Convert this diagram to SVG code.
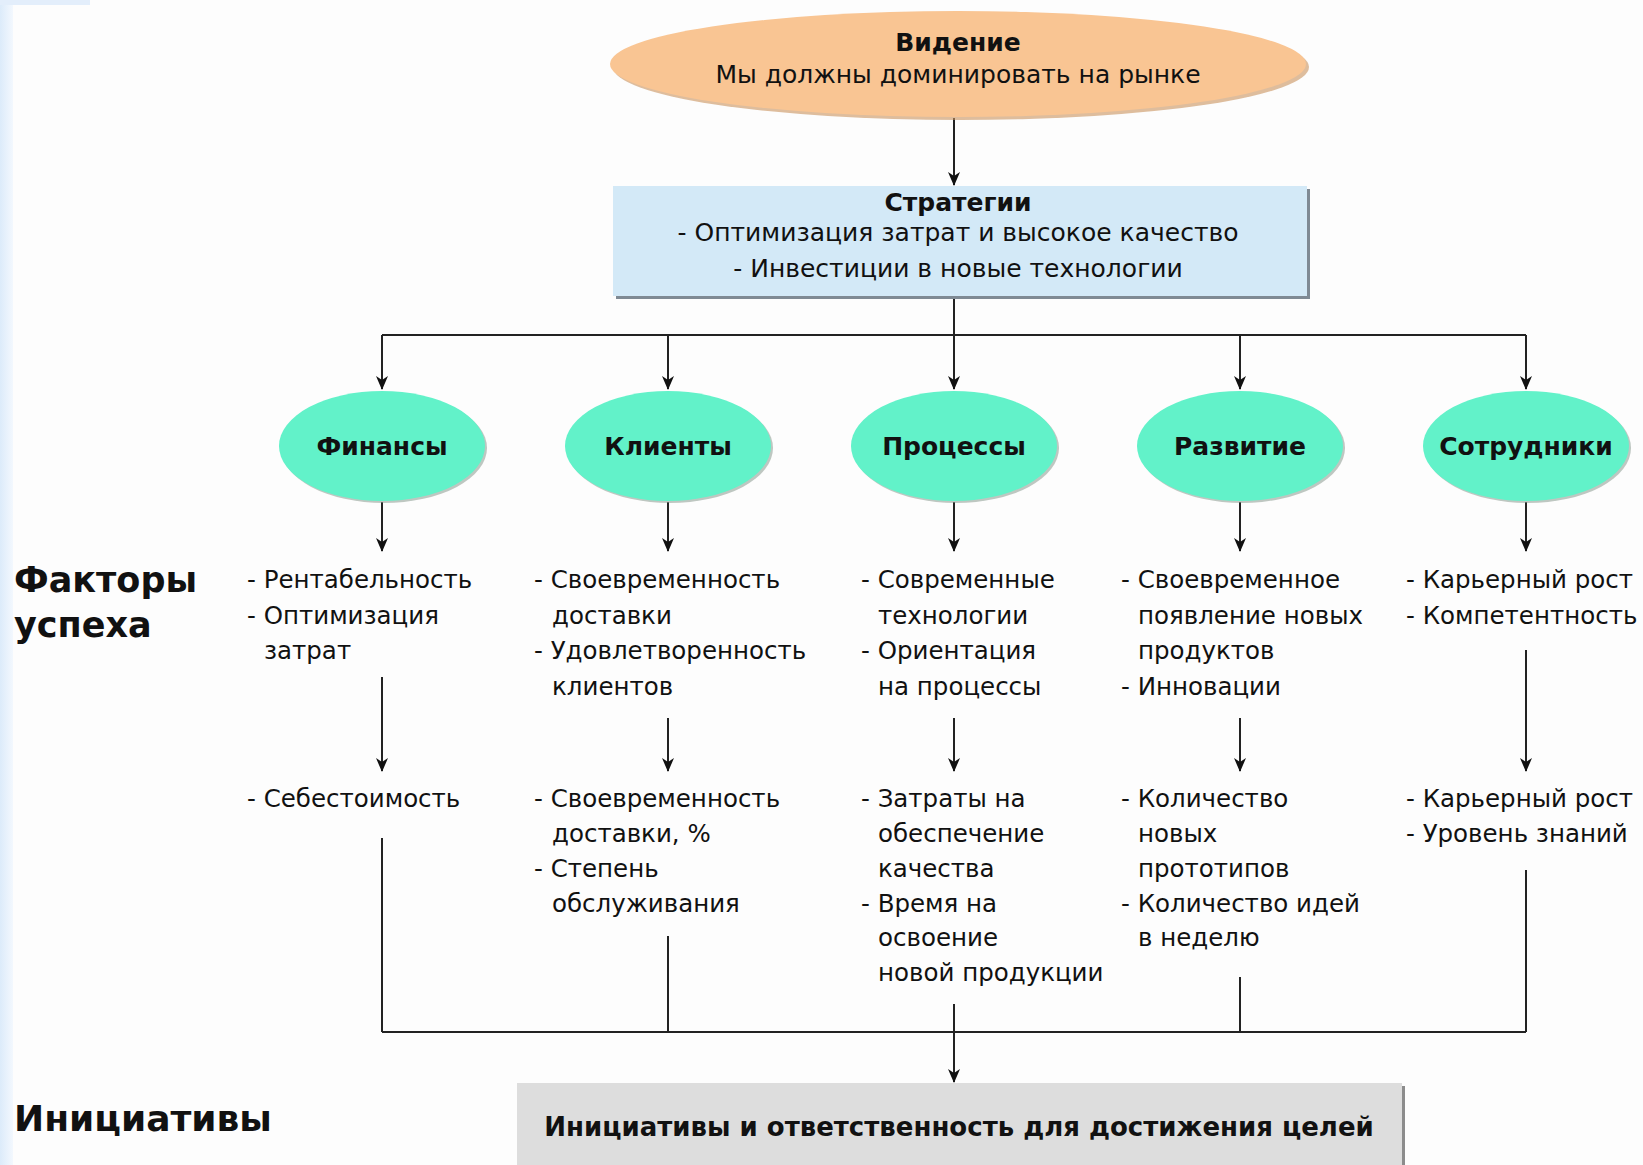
<svg xmlns="http://www.w3.org/2000/svg" width="1643" height="1165" viewBox="0 0 1643 1165">
<style>
  text { font-family: "DejaVu Sans", "Liberation Sans", sans-serif; fill: #111; }
  .t { font-size: 24.5px; }
  .s { font-size: 25px; }
  .b { font-size: 25px; font-weight: bold; }
  .h { font-size: 35px; font-weight: bold; }
  .c { text-anchor: middle; }
  .ln { stroke: #222; stroke-width: 2; fill: none; }
  .ar { stroke: #222; stroke-width: 2; fill: none; marker-end: url(#ah); }
  .green { fill: #62f2c9; }
  .gshadow { fill: #8a9a90; opacity: 0.55; }
</style>
<defs>
  <marker id="ah" markerUnits="userSpaceOnUse" markerWidth="14" markerHeight="12" refX="13" refY="6" orient="auto">
    <path d="M0,0 L14,6 L0,12 L4,6 z" fill="#111"/>
  </marker>
  <linearGradient id="strip" x1="0" y1="0" x2="1" y2="0">
    <stop offset="0" stop-color="#dcebfa"/>
    <stop offset="1" stop-color="#f3f8fe"/>
  </linearGradient>
</defs>

<rect x="0" y="0" width="1643" height="1165" fill="#fdfdfd"/>
<rect x="0" y="0" width="13" height="1165" fill="url(#strip)"/>
<rect x="0" y="0" width="90" height="5" fill="#e3eefb"/>

<g id="connectors">
  <path class="ar" d="M954,118 V185"/>
  <path class="ln" d="M382,335 H1526"/>
  <path class="ar" d="M954,297 V389"/>
  <path class="ar" d="M382,335 V389"/>
  <path class="ar" d="M668,335 V389"/>
  <path class="ar" d="M1240,335 V389"/>
  <path class="ar" d="M1526,335 V389"/>
  <path class="ar" d="M382,502 V551"/>
  <path class="ar" d="M668,502 V551"/>
  <path class="ar" d="M954,502 V551"/>
  <path class="ar" d="M1240,502 V551"/>
  <path class="ar" d="M1526,502 V551"/>
  <path class="ar" d="M382,677 V771"/>
  <path class="ar" d="M668,718 V771"/>
  <path class="ar" d="M954,718 V771"/>
  <path class="ar" d="M1240,718 V771"/>
  <path class="ar" d="M1526,650 V771"/>
  <path class="ln" d="M382,838 V1032"/>
  <path class="ln" d="M668,936 V1032"/>
  <path class="ln" d="M1240,977 V1032"/>
  <path class="ln" d="M1526,870 V1032"/>
  <path class="ln" d="M382,1032 H1526"/>
  <path class="ar" d="M954,1004 V1082"/>
</g>

<g id="vision">
  <ellipse cx="961" cy="67" rx="348" ry="53" fill="#c9925e" opacity="0.6"/>
  <ellipse cx="958" cy="64" rx="348" ry="53" fill="#f9c593"/>
  <text class="b c" x="958" y="51">Видение</text>
  <text class="c" x="958" y="83" style="font-size:25px">Мы должны доминировать на рынке</text>
</g>

<g id="strategies">
  <rect x="616" y="189" width="694" height="110" fill="#7f8a94"/>
  <rect x="613" y="186" width="694" height="110" fill="#d3e9f7"/>
  <text class="b c" x="958" y="211">Стратегии</text>
  <text class="s c" x="958" y="241">- Оптимизация затрат и высокое качество</text>
  <text class="s c" x="958" y="277">- Инвестиции в новые технологии</text>
</g>

<g id="finance">
  <ellipse class="gshadow" cx="384" cy="448" rx="103" ry="55"/>
  <ellipse class="green" cx="382" cy="446" rx="103" ry="55"/>
  <text class="b c" x="382" y="455">Финансы</text>
</g>
<g id="clients">
  <ellipse class="gshadow" cx="670" cy="448" rx="103" ry="55"/>
  <ellipse class="green" cx="668" cy="446" rx="103" ry="55"/>
  <text class="b c" x="668" y="455">Клиенты</text>
</g>
<g id="processes">
  <ellipse class="gshadow" cx="956" cy="448" rx="103" ry="55"/>
  <ellipse class="green" cx="954" cy="446" rx="103" ry="55"/>
  <text class="b c" x="954" y="455">Процессы</text>
</g>
<g id="development">
  <ellipse class="gshadow" cx="1242" cy="448" rx="103" ry="55"/>
  <ellipse class="green" cx="1240" cy="446" rx="103" ry="55"/>
  <text class="b c" x="1240" y="455">Развитие</text>
</g>
<g id="employees">
  <ellipse class="gshadow" cx="1528" cy="448" rx="103" ry="55"/>
  <ellipse class="green" cx="1526" cy="446" rx="103" ry="55"/>
  <text class="b c" x="1526" y="455">Сотрудники</text>
</g>

<g id="label-factors">
  <text class="h" x="14" y="592">Факторы</text>
  <text class="h" x="14" y="637">успеха</text>
</g>
<g id="label-initiatives">
  <text class="h" x="14" y="1131" style="font-size:36px">Инициативы</text>
</g>

<g id="factors-finance">
  <text class="t" x="247" y="588">- Рентабельность</text>
  <text class="t" x="247" y="624">- Оптимизация</text>
  <text class="t" x="264" y="659">затрат</text>
</g>
<g id="factors-clients">
  <text class="t" x="534" y="588">- Своевременность</text>
  <text class="t" x="552" y="624">доставки</text>
  <text class="t" x="534" y="659">- Удовлетворенность</text>
  <text class="t" x="552" y="695">клиентов</text>
</g>
<g id="factors-processes">
  <text class="t" x="861" y="588">- Современные</text>
  <text class="t" x="878" y="624">технологии</text>
  <text class="t" x="861" y="659">- Ориентация</text>
  <text class="t" x="878" y="695">на процессы</text>
</g>
<g id="factors-development">
  <text class="t" x="1121" y="588">- Своевременное</text>
  <text class="t" x="1138" y="624">появление новых</text>
  <text class="t" x="1138" y="659">продуктов</text>
  <text class="t" x="1121" y="695">- Инновации</text>
</g>
<g id="factors-employees">
  <text class="t" x="1406" y="588">- Карьерный рост</text>
  <text class="t" x="1406" y="624">- Компетентность</text>
</g>

<g id="metrics-finance">
  <text class="t" x="247" y="807">- Себестоимость</text>
</g>
<g id="metrics-clients">
  <text class="t" x="534" y="807">- Своевременность</text>
  <text class="t" x="552" y="842">доставки, %</text>
  <text class="t" x="534" y="877">- Степень</text>
  <text class="t" x="552" y="912">обслуживания</text>
</g>
<g id="metrics-processes">
  <text class="t" x="861" y="807">- Затраты на</text>
  <text class="t" x="878" y="842">обеспечение</text>
  <text class="t" x="878" y="877">качества</text>
  <text class="t" x="861" y="912">- Время на</text>
  <text class="t" x="878" y="946">освоение</text>
  <text class="t" x="878" y="981">новой продукции</text>
</g>
<g id="metrics-development">
  <text class="t" x="1121" y="807">- Количество</text>
  <text class="t" x="1138" y="842">новых</text>
  <text class="t" x="1138" y="877">прототипов</text>
  <text class="t" x="1121" y="912">- Количество идей</text>
  <text class="t" x="1138" y="946">в неделю</text>
</g>
<g id="metrics-employees">
  <text class="t" x="1406" y="807">- Карьерный рост</text>
  <text class="t" x="1406" y="842">- Уровень знаний</text>
</g>

<g id="initiatives">
  <rect x="520" y="1086" width="885" height="90" fill="#8c8c8c"/>
  <rect x="517" y="1083" width="885" height="90" fill="#dddddd"/>
  <text class="b c" x="959" y="1136" style="font-size:26px">Инициативы и ответственность для достижения целей</text>
</g>
</svg>
